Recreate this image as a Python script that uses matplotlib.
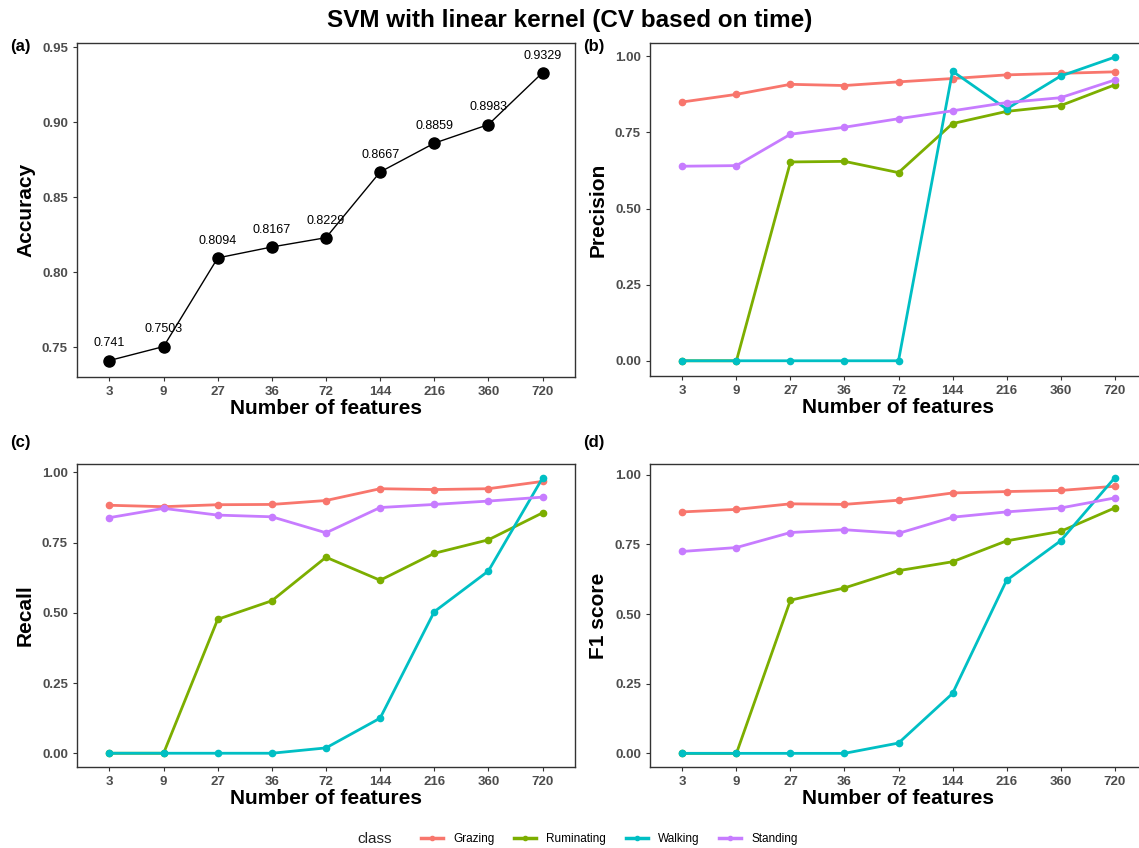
import numpy as np
import matplotlib
matplotlib.use("Agg")
import matplotlib.pyplot as plt
from matplotlib.lines import Line2D

plt.rcParams["font.family"] = ["Liberation Sans", "DejaVu Sans"]

# ---- data ----
n_features = ["3", "9", "27", "36", "72", "144", "216", "360", "720"]
accuracy = [0.741, 0.7503, 0.8094, 0.8167, 0.8229, 0.8667, 0.8859, 0.8983, 0.9329]
acc_labels = ["0.741", "0.7503", "0.8094", "0.8167", "0.8229", "0.8667", "0.8859", "0.8983", "0.9329"]

classes = ["Grazing", "Ruminating", "Walking", "Standing"]
class_colors = ["#F8766D", "#7CAE00", "#00BFC4", "#C77CFF"]

precision_grazing = [0.850, 0.875, 0.908, 0.904, 0.916, 0.927, 0.939, 0.944, 0.949]
precision_ruminating = [0.0, 0.0, 0.653, 0.655, 0.618, 0.779, 0.819, 0.838, 0.906]
precision_walking = [0.0, 0.0, 0.0, 0.0, 0.0, 0.951, 0.827, 0.935, 0.997]
precision_standing = [0.639, 0.641, 0.744, 0.767, 0.795, 0.821, 0.848, 0.864, 0.922]

recall_grazing = [0.883, 0.878, 0.885, 0.886, 0.900, 0.942, 0.939, 0.942, 0.968]
recall_ruminating = [0.0, 0.0, 0.477, 0.543, 0.698, 0.616, 0.712, 0.760, 0.856]
recall_walking = [0.0, 0.0, 0.0, 0.0, 0.019, 0.125, 0.504, 0.649, 0.980]
recall_standing = [0.839, 0.872, 0.848, 0.842, 0.785, 0.875, 0.886, 0.898, 0.912]

f1_grazing = [0.867, 0.876, 0.896, 0.894, 0.909, 0.935, 0.940, 0.944, 0.959]
f1_ruminating = [0.0, 0.0, 0.550, 0.594, 0.656, 0.688, 0.763, 0.797, 0.881]
f1_walking = [0.0, 0.0, 0.0, 0.0, 0.037, 0.215, 0.621, 0.763, 0.989]
f1_standing = [0.725, 0.739, 0.793, 0.803, 0.790, 0.848, 0.867, 0.881, 0.917]

W, H = 1139, 848
fig = plt.figure(figsize=(W / 100, H / 100), dpi=100)


def px_axes(left, top, right, bottom):
    return fig.add_axes([left / W, 1 - bottom / H, (right - left) / W, (bottom - top) / H])


def style_axes(ax, ylabel, yticks, ylim):
    x = np.arange(len(n_features))
    ax.set_xlim(-0.6, len(n_features) - 0.4)
    ax.set_xticks(x)
    ax.set_xticklabels(n_features)
    ax.set_ylim(*ylim)
    ax.set_yticks(yticks)
    ax.set_yticklabels([f"{t:.2f}" for t in yticks])
    for s in ax.spines.values():
        s.set_color("#333333")
        s.set_linewidth(1.0)
    ax.tick_params(axis="both", colors="#333333", length=3, width=0.8,
                   labelsize=9.5, labelcolor="#4D4D4D")
    for lab in ax.get_xticklabels() + ax.get_yticklabels():
        lab.set_fontweight("bold")
    ax.set_xlabel("Number of features", fontsize=15, fontweight="bold", labelpad=1)
    ax.set_ylabel(ylabel, fontsize=15, fontweight="bold", labelpad=5)


# (a) accuracy
ax_a = px_axes(77, 43, 575, 377)
xa = np.arange(len(n_features))
ax_a.plot(xa, accuracy, color="black", lw=1.0, marker="o", ms=8, zorder=3)
for xi, yi, lab in zip(xa, accuracy, acc_labels):
    ax_a.annotate(lab, (xi, yi), xytext=(0, 8), textcoords="offset points",
                  ha="center", va="bottom", fontsize=9, color="black")
style_axes(ax_a, "Accuracy", [0.75, 0.80, 0.85, 0.90, 0.95], (0.730, 0.9527))

panels = [
    ((650, 43, 1147, 376), "Precision",
     [precision_grazing, precision_ruminating, precision_walking, precision_standing],
     (-0.050, 1.0437)),
    ((77, 464, 575, 767), "Recall",
     [recall_grazing, recall_ruminating, recall_walking, recall_standing],
     (-0.049, 1.030)),
    ((650, 464, 1147, 767), "F1 score",
     [f1_grazing, f1_ruminating, f1_walking, f1_standing],
     (-0.049, 1.039)),
]
for box, ylabel, series, ylim in panels:
    ax = px_axes(*box)
    x = np.arange(len(n_features))
    for vals, col in zip(series, class_colors):
        ax.plot(x, vals, color=col, lw=2.0, marker="o", ms=4.5, zorder=3)
    style_axes(ax, ylabel, [0.0, 0.25, 0.50, 0.75, 1.00], ylim)

# panel tags
for tag, xp, yp in [("(a)", 10, 47), ("(b)", 583, 47), ("(c)", 10, 443), ("(d)", 583, 443)]:
    fig.text(xp / W, 1 - yp / H, tag, fontsize=12, fontweight="bold", va="center", ha="left")

fig.text(0.5, 1 - 20 / H, "SVM with linear kernel (CV based on time)",
         fontsize=17.5, fontweight="bold", ha="center", va="center")

# legend
fig.text(357 / W, 1 - 839 / H, "class", fontsize=11, va="center", ha="left", color="#222222")
handles = [Line2D([0], [0], color=c, lw=2.5, marker="o", ms=3) for c in class_colors]
fig.legend(handles, classes, loc="center left", bbox_to_anchor=(421 / W, 1 - 839 / H),
           ncol=4, frameon=False, fontsize=8.5, handlelength=1.85, handletextpad=0.85,
           columnspacing=1.7, borderaxespad=0, borderpad=0)

fig.savefig("out.png", dpi=100)
